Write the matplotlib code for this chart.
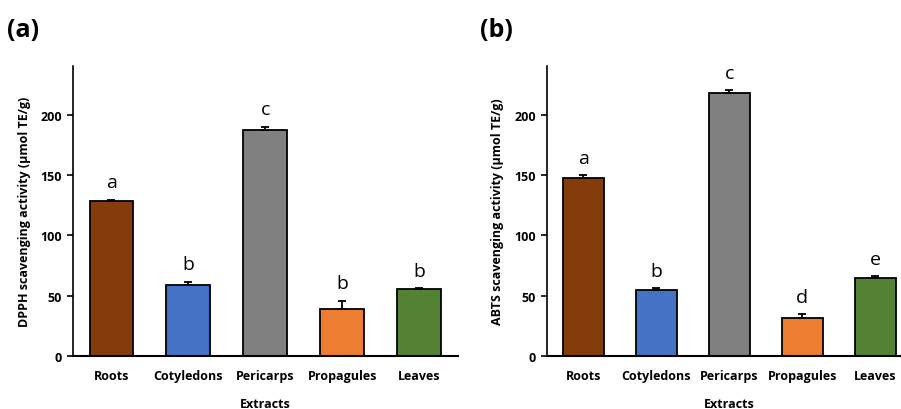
import matplotlib.pyplot as plt
import numpy as np

plt.rcParams['font.family'] = ['Open Sans', 'DejaVu Sans']

extracts = ['Roots', 'Cotyledons', 'Pericarps', 'Propagules', 'Leaves']
colors = ['#843C0C', '#4472C4', '#808080', '#ED7D31', '#548235']

dpph = [128.5, 58.5, 187.0, 38.8, 55.2]
dpph_err = [1.0, 3.2, 3.0, 7.0, 1.0]
dpph_letters = ['a', 'b', 'c', 'b', 'b']

abts = [147.3, 54.4, 217.5, 31.9, 65.0]
abts_err = [2.5, 2.0, 2.7, 3.0, 1.0]
abts_letters = ['a', 'b', 'c', 'd', 'e']


def panel(ax, vals, errs, letters, ylab, tag, bar_w):
	x = np.arange(len(extracts))
	ax.bar(x, vals, width=bar_w, color=colors, edgecolor='black', linewidth=1.3,
		yerr=[np.zeros(len(errs)), errs], error_kw=dict(ecolor='black', elinewidth=1.3, capsize=3, capthick=1.3))
	for xi, v, e, l in zip(x, vals, errs, letters):
		ax.annotate(l, (xi, v + e), xytext=(0, 6), textcoords='offset points',
			ha='center', va='bottom', fontsize=14)
	ax.set_xlim(-0.5, len(extracts) - 0.5)
	ax.set_ylim(0, 240)
	ax.set_yticks([0, 50, 100, 150, 200])
	ax.set_xticks(x)
	ax.set_xticklabels(extracts, fontweight='bold', fontsize=9)
	for t in ax.get_yticklabels():
		t.set_fontweight('bold')
		t.set_fontsize(9)
	ax.tick_params(axis='x', length=0, pad=9)
	ax.tick_params(axis='y', length=4, width=1.2, direction='out', pad=4)
	ax.spines['top'].set_visible(False)
	ax.spines['right'].set_visible(False)
	ax.spines['left'].set_linewidth(1.2)
	ax.spines['bottom'].set_linewidth(1.5)
	ax.set_ylabel(ylab, fontweight='bold', fontsize=9, labelpad=7)
	ax.set_xlabel('Extracts', fontweight='bold', fontsize=9, labelpad=11)
	ax.text(tag[1], 0.925, tag[0], transform=plt.gcf().transFigure, fontsize=18,
		fontweight='bold', va='center', ha='left')


fig = plt.figure(figsize=(9.01, 4.10), dpi=100)
ax1 = fig.add_axes([0.081, 0.129, 0.427, 0.707])
ax2 = fig.add_axes([0.607, 0.129, 0.405, 0.707])

panel(ax1, dpph, dpph_err, dpph_letters, 'DPPH scavenging activity (µmol TE/g)', ('(a)', 0.008), 0.57)
panel(ax2, abts, abts_err, abts_letters, 'ABTS scavenging activity (µmol TE/g)', ('(b)', 0.533), 0.56)

fig.savefig('out.png', dpi=100)
